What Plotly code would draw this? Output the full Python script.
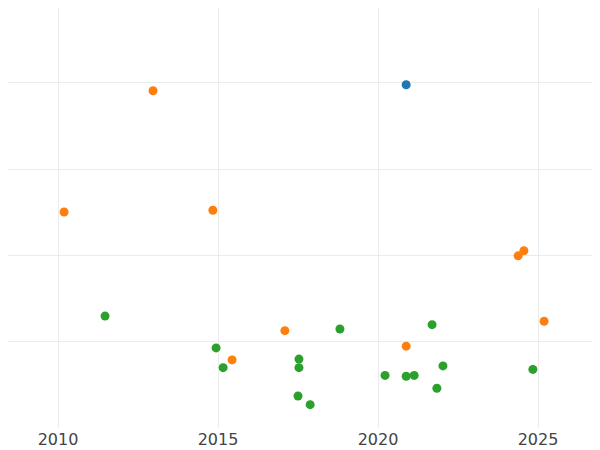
import plotly.graph_objects as go

blue_x = [2020.88]
blue_y = [3.98]
orange_x = [2012.97, 2010.19, 2014.84, 2024.38, 2024.56, 2025.19, 2017.09, 2015.44, 2020.88]
orange_y = [3.91, 2.50, 2.52, 1.99, 2.05, 1.23, 1.12, 0.78, 0.94]
green_x = [2011.47, 2014.94, 2015.16, 2017.53, 2017.53, 2018.81, 2017.5, 2017.88, 2020.22, 2020.88, 2021.13, 2021.69, 2022.03, 2021.84, 2024.84]
green_y = [1.29, 0.92, 0.69, 0.79, 0.69, 1.14, 0.36, 0.26, 0.60, 0.59, 0.60, 1.19, 0.71, 0.45, 0.67]

fig = go.Figure()
for xs, ys, c in [(blue_x, blue_y, "#1f77b4"), (orange_x, orange_y, "#ff7f0e"), (green_x, green_y, "#2ca02c")]:
    fig.add_trace(go.Scatter(x=xs, y=ys, mode="markers", marker=dict(color=c, size=9), showlegend=False))

fig.update_layout(
    width=600, height=450, margin=dict(l=0, r=0, t=0, b=30),
    plot_bgcolor="white", paper_bgcolor="white",
    font=dict(family="DejaVu Sans", size=16, color="#444"),
)
fig.update_xaxes(range=[2008.4375, 2027.1875], tickvals=[2010, 2015, 2020, 2025], showgrid=True,
                 gridcolor="#ebebeb", zeroline=False, showline=False)
fig.update_yaxes(range=[-0.0116, 4.872], tickvals=[1, 2, 3, 4], showticklabels=False, showgrid=True,
                 gridcolor="#ebebeb", zeroline=False, showline=False)
fig.write_html("out.html")
